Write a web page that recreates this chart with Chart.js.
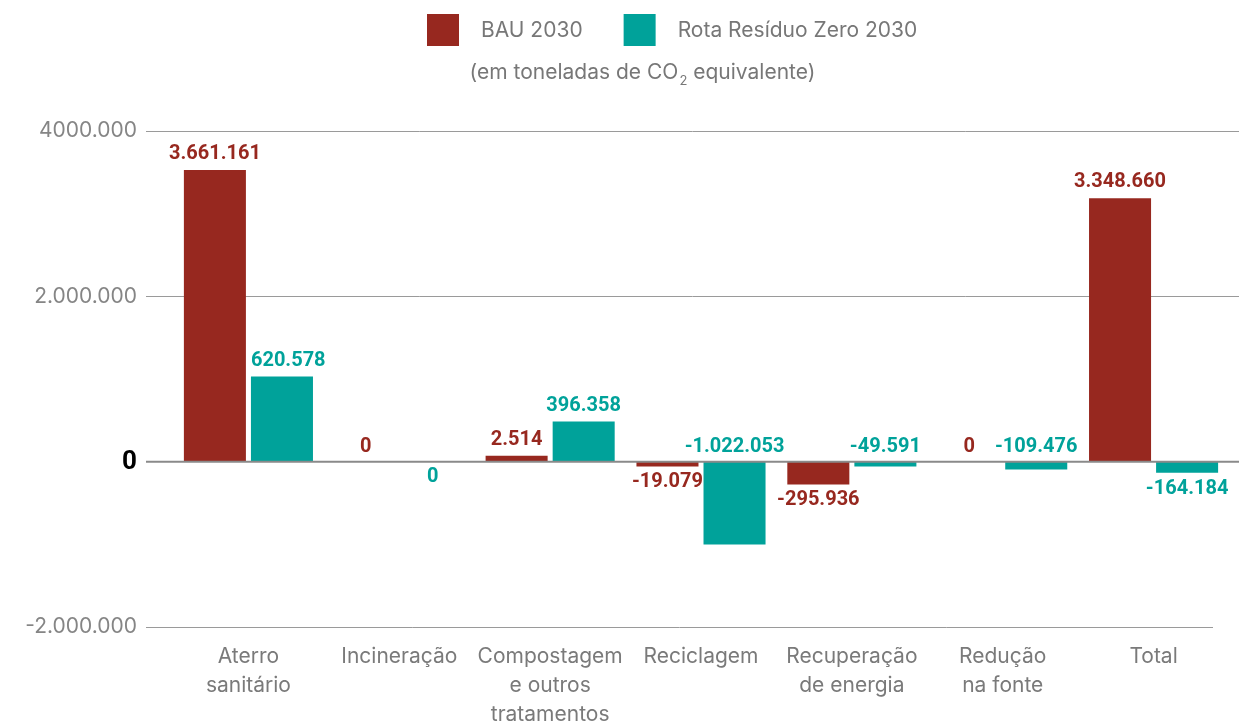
<!DOCTYPE html>
<html>
<head>
<meta charset="utf-8">
<script src="https://cdn.jsdelivr.net/npm/chart.js@4.4.1/dist/chart.umd.min.js"></script>
<style>
  html, body { margin: 0; padding: 0; background: #ffffff; }
  #wrap { width: 1252px; height: 722px; position: relative; }
</style>
</head>
<body>
<div id="wrap"><canvas id="c" width="1252" height="722"></canvas></div>
<script>
// ---- data ----
const categories = [
  ["Aterro", "sanitário"],
  "Incineração",
  ["Compostagem", "e outros", "tratamentos"],
  "Reciclagem",
  ["Recuperação", "de energia"],
  ["Redução", "na fonte"],
  "Total"
];
const seriesNames = ["BAU 2030", "Rota Resíduo Zero 2030"];
// bar heights as drawn in the picture
const bauValues  = [3527000, 0, 73000, -57000, -275000, 0, 3188000];
const rotaValues = [1030000, 0, 485000, -1002000, -57000, -93000, -133000];
// printed value labels
const bauLabels  = ["3.661.161", "0", "2.514", "-19.079", "-295.936", "0", "3.348.660"];
const rotaLabels = ["620.578", "0", "396.358", "-1.022.053", "-49.591", "-109.476", "-164.184"];
// axis ticks
const tickValues = [4000000, 2000000, 0, -2000000];
const tickLabels = ["4000.000", "2.000.000", "0", "-2.000.000"];
const subtitleParts = ["(em toneladas de CO", "2", " equivalente)"];

const BAU_COLOR = "#97281f";
const ROTA_COLOR = "#00a29a";
const GRAY = "#858585";

// label placement style: 'end' = beyond bar end, 'endLeft' = beyond end, left-aligned to bar,
// 'above0' / 'below0' relative to zero line
const placement = [
  ["end", "above0", "end", "end", "end", "above0", "end"],
  ["endLeft", "below0", "end", "above0", "above0", "above0", "end"]
];

const overlay = {
  id: "overlay",
  beforeDatasetsDraw(chart) {
    const ctx = chart.ctx, y = chart.scales.y;
    ctx.save();
    ctx.strokeStyle = "#9a9a9a";
    ctx.lineWidth = 1;
    tickValues.forEach(v => {
      if (v === 0) return;
      const py = Math.round(y.getPixelForValue(v)) + 0.5;
      ctx.beginPath();
      ctx.moveTo(146, py);
      ctx.lineTo(v < 0 ? 1213 : 1239, py);
      ctx.stroke();
    });
    ctx.restore();
  },
  afterDatasetsDraw(chart) {
    const ctx = chart.ctx, y = chart.scales.y;
    ctx.save();
    // zero line
    const y0 = y.getPixelForValue(0);
    ctx.strokeStyle = "#8a8a8a";
    ctx.lineWidth = 2;
    ctx.beginPath();
    ctx.moveTo(146, y0);
    ctx.lineTo(1239, y0);
    ctx.stroke();

    // y tick labels
    ctx.textAlign = "right";
    ctx.textBaseline = "middle";
    tickValues.forEach((v, i) => {
      const py = y.getPixelForValue(v);
      if (v === 0) {
        ctx.font = "bold 26px Roboto";
        ctx.fillStyle = "#000000";
        ctx.fillText(tickLabels[i], 137, py + 1);
      } else {
        ctx.font = "21px Inter";
        ctx.fillStyle = GRAY;
        ctx.fillText(tickLabels[i], 137, py);
      }
    });

    // value labels
    const allLabels = [bauLabels, rotaLabels];
    const colors = [BAU_COLOR, ROTA_COLOR];
    ctx.font = "bold 20px Roboto";
    chart.data.datasets.forEach((ds, di) => {
      const meta = chart.getDatasetMeta(di);
      meta.data.forEach((bar, i) => {
        const v = ds.data[i];
        const mode = placement[di][i];
        let py, px = bar.x;
        ctx.textAlign = "center";
        if (mode === "above0") py = y0 - 15;
        else if (mode === "below0") py = y0 + 15;
        else py = v >= 0 ? bar.y - 16 : bar.y + 16;
        if (mode === "endLeft") {
          ctx.textAlign = "left";
          px = bar.x - bar.width / 2;
        }
        ctx.fillStyle = colors[di];
        ctx.fillText(allLabels[di][i], px, py);
      });
    });

    // legend
    ctx.textAlign = "left";
    ctx.font = "21px Inter";
    let x = 427;
    chart.data.datasets.forEach((ds) => {
      ctx.fillStyle = ds.backgroundColor;
      ctx.fillRect(x, 14, 32, 32);
      x += 32 + 22;
      ctx.fillStyle = "#777777";
      ctx.fillText(ds.label, x, 31);
      x += ctx.measureText(ds.label).width + 41;
    });

    // subtitle with subscript
    ctx.font = "21px Inter";
    const w0 = ctx.measureText(subtitleParts[0]).width;
    const w2 = ctx.measureText(subtitleParts[2]).width;
    ctx.font = "13px Inter";
    const w1 = ctx.measureText(subtitleParts[1]).width;
    let sx = 642 - (w0 + w1 + w2) / 2;
    ctx.fillStyle = "#777777";
    ctx.font = "21px Inter";
    ctx.fillText(subtitleParts[0], sx, 73);
    ctx.font = "13px Inter";
    ctx.fillText(subtitleParts[1], sx + w0 + 1, 81);
    ctx.font = "21px Inter";
    ctx.fillText(subtitleParts[2], sx + w0 + w1 + 1, 73);
    ctx.restore();
  }
};

new Chart(document.getElementById("c"), {
  type: "bar",
  data: {
    labels: categories,
    datasets: [
      { label: seriesNames[0], data: bauValues, backgroundColor: BAU_COLOR },
      { label: seriesNames[1], data: rotaValues, backgroundColor: ROTA_COLOR }
    ]
  },
  options: {
    responsive: false,
    animation: false,
    devicePixelRatio: 1,
    layout: { padding: { left: 173, right: 23, top: 131, bottom: -22 } },
    datasets: { bar: { categoryPercentage: 0.889, barPercentage: 0.925 } },
    plugins: { legend: { display: false }, tooltip: { enabled: false } },
    scales: {
      y: {
        display: false,
        min: -2000000,
        max: 4000000
      },
      x: {
        grid: { display: false, drawTicks: false },
        border: { display: false },
        ticks: {
          color: "#7a7a7a",
          font: { family: "Inter", size: 21, lineHeight: 1.38 },
          padding: 15,
          maxRotation: 0,
          autoSkip: false
        }
      }
    }
  },
  plugins: [overlay]
});
</script>
</body>
</html>
